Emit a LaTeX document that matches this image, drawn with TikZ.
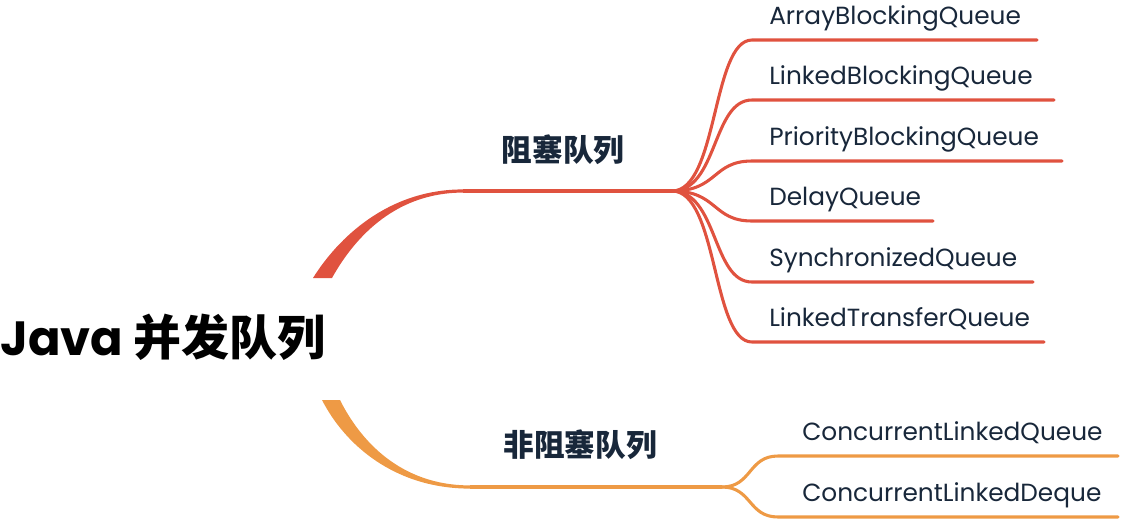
\documentclass[tikz,border=0pt]{standalone}
\usepackage{fontspec}
\setmainfont{Poppins}
\newfontfamily\cjk{Noto Sans CJK SC}
\definecolor{redb}{HTML}{E0523F}
\definecolor{orab}{HTML}{EE9A45}
\definecolor{ink}{HTML}{18273A}
\begin{document}
\begin{tikzpicture}[x=0.75pt,y=-0.75pt,
  leaf/.style={anchor=base west,inner sep=0pt,font=\fontsize{18.6}{22}\selectfont,text=ink},
  branchlbl/.style={inner sep=0pt,font=\cjk\bfseries\fontsize{23}{26}\selectfont,text=ink},
  rl/.style={draw=redb,line width=2.3pt,line cap=round},
  ol/.style={draw=orab,line width=2.3pt,line cap=round}]
\useasboundingbox (0,0) rectangle (1122,522);
% root
\node[anchor=base west,inner sep=0pt,font=\bfseries\fontsize{36}{40}\selectfont] (root) at (0,355) {Java {\cjk\bfseries 并发队列}};
% red branch
\coordinate (rs) at (322,278);
\coordinate (rj) at (463,191);
\coordinate (hubR) at (672,191);
\fill[redb] (313,278) .. controls (338,238) and (388,189.4) .. (463,189.4) -- (463,192.6) .. controls (392,192.6) and (352,242) .. (332,278) -- cycle;
\draw[rl,line width=2.5pt,line cap=butt] (rj) -- (hubR);
\node[branchlbl] (blk) at (563,150) {阻塞队列};
% red leaves
\foreach \i/\y/\e/\t in {1/40/1037/ArrayBlockingQueue,2/100/1054/LinkedBlockingQueue,3/161/1062/PriorityBlockingQueue,4/221/933/DelayQueue,5/282/1033/SynchronizedQueue,6/342/1044/LinkedTransferQueue}{
  \coordinate (rs\i) at (752,\y);
  \coordinate (re\i) at (\e,\y);
  \node[leaf] (rleaf\i) at (769,\y-16) {\t};
  \draw[rl] (hubR) .. controls (718,191) and (712,\y) .. (rs\i) -- (re\i);
}
% orange branch
\coordinate (os) at (331,400);
\coordinate (oj) at (470,487);
\coordinate (hubO) at (722,487);
\fill[orab] (322,400) .. controls (345,445) and (395,488.6) .. (470,488.6) -- (470,485.4) .. controls (400,485.4) and (360,440) .. (340,400) -- cycle;
\draw[ol,line width=2.5pt,line cap=butt] (oj) -- (hubO);
\node[branchlbl] (nblk) at (580,445) {非阻塞队列};
\foreach \i/\y/\t in {1/456/ConcurrentLinkedQueue,2/517/ConcurrentLinkedDeque}{
  \coordinate (os\i) at (778,\y);
  \coordinate (oe\i) at (1118,\y);
  \node[leaf] (oleaf\i) at (802,\y-16) {\t};
  \draw[ol] (hubO) .. controls (752,487) and (748,\y) .. (os\i) -- (oe\i);
}
\end{tikzpicture}
\end{document}
